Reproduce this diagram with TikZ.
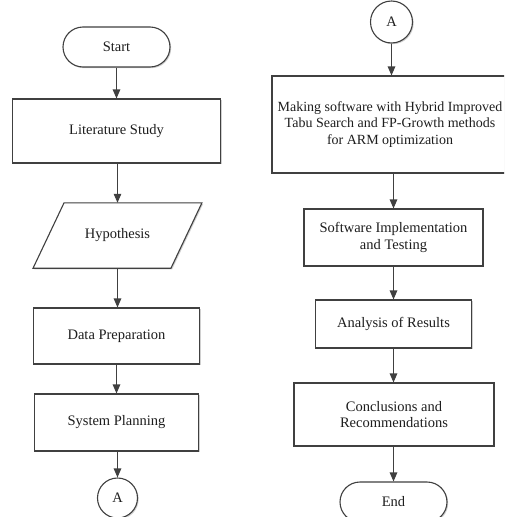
\documentclass[tikz,border=0pt]{standalone}
\usepackage{fontspec}
\setmainfont{Liberation Serif}
\usetikzlibrary{shapes.misc,arrows.meta,shadows,calc}
\definecolor{ln}{HTML}{404040}
\definecolor{tx}{HTML}{1E1E1E}
\begin{document}
\begin{tikzpicture}[x=1pt,y=-1pt,
  line/.style={draw=ln,line width=1.1pt},
  shad/.style={drop shadow={shadow xshift=1.2pt,shadow yshift=-1.2pt,fill=black!30,opacity=0.6}},
  box/.style={line,rectangle,fill=white,font=\fontsize{14.5}{16.5}\selectfont,text=tx,align=center,inner sep=0pt,shad},
  term/.style={box,rounded rectangle},
  conn/.style={box,circle,minimum size=40pt},
  arr/.style={line,-{Triangle[length=9pt,width=7.5pt]}},
]
\useasboundingbox (0,0) rectangle (504,517);
\clip (0,0) rectangle (504,517);
\fill[white] (0,0) rectangle (504,517);

% left column
\node[term,minimum width=107pt,minimum height=40pt] (start) at (116.5,47) {Start};
\node[box,minimum width=208pt,minimum height=64pt] (lit) at (116.5,131) {Literature Study};
\node[rectangle,inner sep=0pt,minimum width=137.5pt,minimum height=65pt,font=\fontsize{14.5}{16.5}\selectfont,text=tx] (hyp) at (117.5,235.5) {};
\draw[line,fill=white,shad] ($(hyp.north west)+(15.5,0)$) -- ($(hyp.north east)+(15.5,0)$) -- ($(hyp.south east)+(-15.5,0)$) -- ($(hyp.south west)+(-15.5,0)$) -- cycle;
\node[font=\fontsize{14.5}{16.5}\selectfont,text=tx] at (hyp.center) {Hypothesis};
\node[box,minimum width=166pt,minimum height=56pt] (data) at (116.5,336) {Data Preparation};
\node[box,minimum width=164pt,minimum height=57pt] (sys) at (116.5,422.5) {System Planning};
\node[conn] (a1) at (117.5,498) {A};

\draw[arr] (start.south) -- (start.south |- lit.north);
\draw[arr] (lit.south -| hyp.north) -- (hyp.north);
\draw[arr] (hyp.south) -- (hyp.south |- data.north);
\draw[arr] (data.south) -- (data.south |- sys.north);
\draw[arr] (a1.north |- sys.south) -- (a1.north);

% right column
\node[conn,minimum size=42pt] (a2) at (391.5,22) {A};
\node[box,minimum width=236pt,minimum height=97pt,font=\fontsize{14}{16.5}\selectfont] (mk) at (390,124.5) {Making software with Hybrid Improved\\Tabu Search and FP-Growth methods\\for ARM optimization};
\node[box,minimum width=179pt,minimum height=57pt] (sw) at (393.5,237.5) {Software Implementation\\and Testing};
\node[box,minimum width=156pt,minimum height=48pt] (an) at (393.5,324) {Analysis of Results};
\node[box,minimum width=200pt,minimum height=63pt] (con) at (394,414.5) {Conclusions and\\Recommendations};
\node[term,minimum width=107pt,minimum height=40pt] (end) at (393.5,502) {End};

\draw[arr] (a2.south) -- (a2.south |- mk.north);
\draw[arr] (sw.north |- mk.south) -- (sw.north);
\draw[arr] (an.north |- sw.south) -- (an.north);
\draw[arr] (an.south) -- (an.south |- con.north);
\draw[arr] (end.north |- con.south) -- (end.north);
\end{tikzpicture}
\end{document}
